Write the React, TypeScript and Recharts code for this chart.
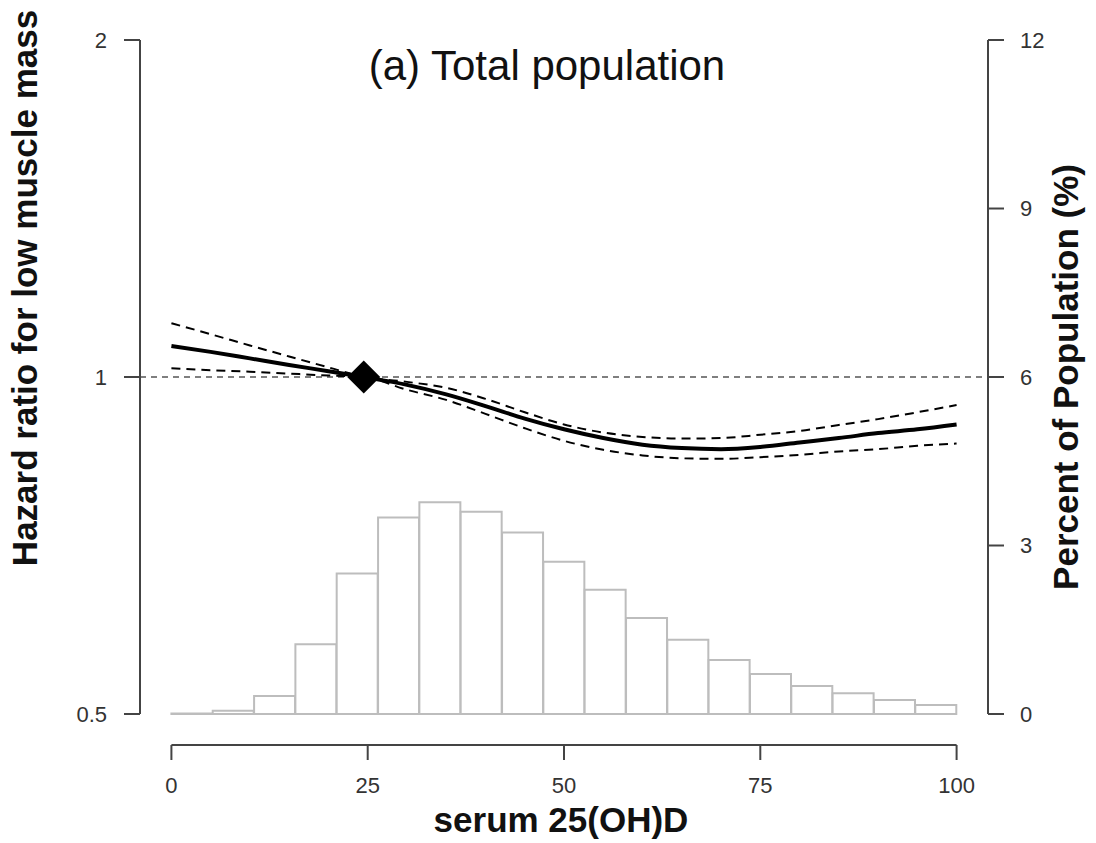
import {
  Bar,
  ComposedChart,
  Line,
  ReferenceDot,
  ReferenceLine,
  XAxis,
  YAxis,
} from 'recharts'

// histogram of serum 25(OH)D, percent of population per bin (bin midpoints)
const binMid = [
  2.63, 7.89, 13.16, 18.42, 23.68, 28.95, 34.21, 39.47, 44.74, 50.0,
  55.26, 60.53, 65.79, 71.05, 76.32, 81.58, 86.84, 92.11, 97.37,
]
const binPct = [
  0.01, 0.06, 0.32, 1.24, 2.5, 3.5, 3.77, 3.6, 3.23, 2.71,
  2.21, 1.71, 1.32, 0.96, 0.71, 0.5, 0.37, 0.25, 0.16,
]

// spline hazard ratio + 95% CI
const curveX = [0, 5, 10, 15, 20, 24.5, 30, 35, 40, 45, 50, 55, 60, 65, 70, 75, 80, 85, 90, 95, 100]
const hrFit = [
  1.066, 1.053, 1.039, 1.025, 1.012, 1.0, 0.984, 0.965, 0.942, 0.918, 0.898,
  0.882, 0.87, 0.864, 0.862, 0.866, 0.874, 0.882, 0.891, 0.898, 0.907,
]
const hrUpper = [
  1.117, 1.092, 1.067, 1.043, 1.02, 1.0, 0.99, 0.978, 0.956, 0.93, 0.907,
  0.892, 0.884, 0.881, 0.882, 0.888, 0.895, 0.906, 0.917, 0.93, 0.944,
]
const hrLower = [
  1.018, 1.014, 1.011, 1.007, 1.003, 1.0, 0.974, 0.954, 0.927, 0.9, 0.877,
  0.861, 0.851, 0.846, 0.845, 0.848, 0.852, 0.858, 0.862, 0.868, 0.872,
]

// reference point
const refX = 24.5
const refHR = 1

const xTicks = [0, 25, 50, 75, 100]
const hrTicks = [0.5, 1, 2]
const pctTicks = [0, 3, 6, 9, 12]

// R-style axes: 4% padding beyond the data range
const X_DOMAIN: [number, number] = [-4, 104]
const HR_DOMAIN: [number, number] = [0.4691, 2.1142]
const PCT_DOMAIN: [number, number] = [-0.552, 12.481]

const FONT = '"Liberation Sans", Arial, sans-serif'
const AXIS = '#444'

const bins = binMid.map((mid, i) => ({ mid, pct: binPct[i] }))
const curve = curveX.map((x, i) => ({ x, fit: hrFit[i], upper: hrUpper[i], lower: hrLower[i] }))

function Diamond({ cx, cy }: { cx?: number; cy?: number }) {
  if (cx == null || cy == null) return null
  const r = 16.5
  return (
    <polygon
      points={`${cx},${cy - r} ${cx + r},${cy} ${cx},${cy + r} ${cx - r},${cy}`}
      fill="#000"
    />
  )
}

const tick = { fill: '#333', fontSize: 22, fontFamily: FONT }

export default function App() {
  return (
    <div style={{ position: 'absolute', left: 0, top: 0, width: 1096, height: 843, background: '#fff' }}>
      <ComposedChart
        width={1096}
        height={843}
        data={bins}
        margin={{ top: 13, right: 0, bottom: 0, left: 0 }}
        barCategoryGap={0}
        barGap={0}
      >
        <XAxis
          xAxisId="bar"
          dataKey="mid"
          type="number"
          domain={X_DOMAIN}
          allowDataOverflow
          ticks={xTicks}
          height={98}
          axisLine={false}
          tickLine={{ stroke: AXIS, strokeWidth: 2 }}
          tickSize={15}
          tickMargin={17}
          tick={tick}
        />
        <XAxis xAxisId="line" dataKey="x" type="number" domain={X_DOMAIN} allowDataOverflow hide />
        <YAxis
          yAxisId="hr"
          scale="log"
          domain={HR_DOMAIN}
          allowDataOverflow
          ticks={hrTicks}
          width={140}
          axisLine={false}
          tickLine={{ stroke: AXIS, strokeWidth: 2 }}
          tickSize={16}
          tickMargin={17}
          tick={tick}
          tickFormatter={(v: number) => String(v)}
        />
        <YAxis
          yAxisId="pct"
          orientation="right"
          domain={PCT_DOMAIN}
          allowDataOverflow
          ticks={pctTicks}
          width={108}
          axisLine={false}
          tickLine={{ stroke: AXIS, strokeWidth: 2 }}
          tickSize={16}
          tickMargin={16}
          tick={tick}
        />

        <Bar
          xAxisId="bar"
          yAxisId="pct"
          dataKey="pct"
          fill="#fff"
          stroke="#bdbdbd"
          strokeWidth={2}
          isAnimationActive={false}
        />

        <ReferenceLine
          xAxisId="line"
          yAxisId="hr"
          y={1}
          stroke="#555"
          strokeWidth={1.5}
          strokeDasharray="6 5"
        />

        {/* detached axis lines */}
        <ReferenceLine
          xAxisId="line"
          yAxisId="hr"
          segment={[{ x: X_DOMAIN[0], y: 0.5 }, { x: X_DOMAIN[0], y: 2 }]}
          stroke={AXIS}
          strokeWidth={2}
          ifOverflow="visible"
        />
        <ReferenceLine
          xAxisId="line"
          yAxisId="pct"
          segment={[{ x: X_DOMAIN[1], y: 0 }, { x: X_DOMAIN[1], y: 12 }]}
          stroke={AXIS}
          strokeWidth={2}
          ifOverflow="visible"
        />
        <ReferenceLine
          xAxisId="line"
          yAxisId="hr"
          segment={[{ x: 0, y: HR_DOMAIN[0] }, { x: 100, y: HR_DOMAIN[0] }]}
          stroke={AXIS}
          strokeWidth={2}
          ifOverflow="visible"
        />

        <Line
          xAxisId="line"
          yAxisId="hr"
          data={curve}
          dataKey="upper"
          type="monotone"
          stroke="#000"
          strokeWidth={2}
          strokeDasharray="9 6"
          dot={false}
          isAnimationActive={false}
        />
        <Line
          xAxisId="line"
          yAxisId="hr"
          data={curve}
          dataKey="lower"
          type="monotone"
          stroke="#000"
          strokeWidth={2}
          strokeDasharray="9 6"
          dot={false}
          isAnimationActive={false}
        />
        <Line
          xAxisId="line"
          yAxisId="hr"
          data={curve}
          dataKey="fit"
          type="monotone"
          stroke="#000"
          strokeWidth={4}
          dot={false}
          isAnimationActive={false}
        />
        <ReferenceDot xAxisId="line" yAxisId="hr" x={refX} y={refHR} shape={<Diamond />} />
      </ComposedChart>

      <svg
        width={1096}
        height={843}
        style={{ position: 'absolute', left: 0, top: 0, pointerEvents: 'none' }}
        fontFamily={FONT}
      >
        <text x={547} y={80} textAnchor="middle" fontSize={42} fill="#111">
          (a) Total population
        </text>
        <text x={561} y={832} textAnchor="middle" fontSize={35} fontWeight="bold" fill="#111">
          serum 25(OH)D
        </text>
        <text
          transform="translate(37,288) rotate(-90)"
          textAnchor="middle"
          fontSize={35}
          fontWeight="bold"
          fill="#111"
        >
          Hazard ratio for low muscle mass
        </text>
        <text
          transform="translate(1078,377) rotate(-90)"
          textAnchor="middle"
          fontSize={35}
          fontWeight="bold"
          fill="#111"
        >
          Percent of Population (%)
        </text>
      </svg>
    </div>
  )
}
